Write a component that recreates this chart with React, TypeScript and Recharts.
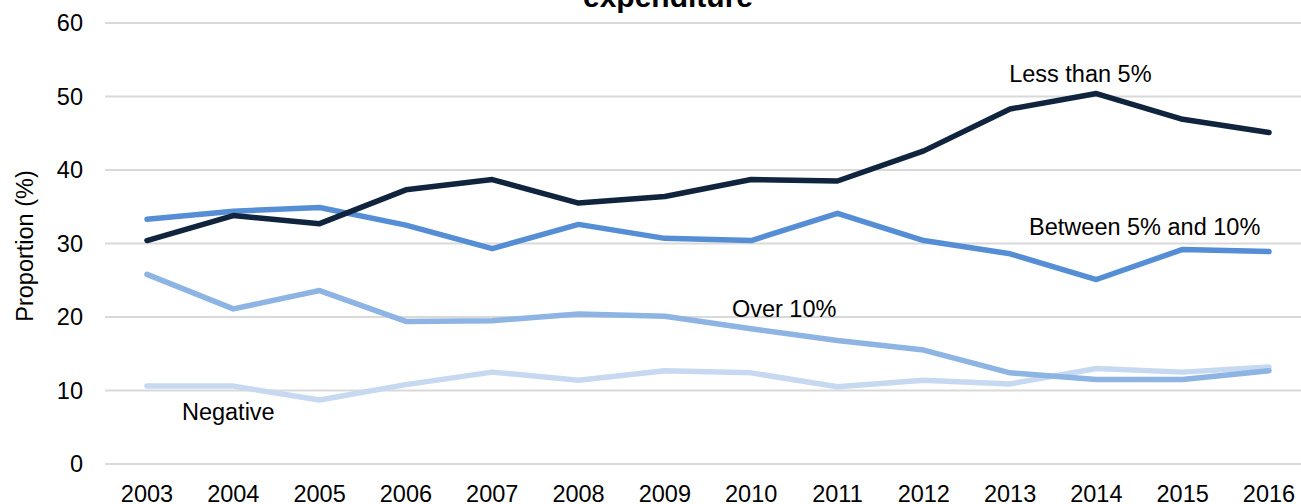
import { LineChart, Line, XAxis, YAxis, CartesianGrid, Customized } from "recharts";

const years = ["2003", "2004", "2005", "2006", "2007", "2008", "2009", "2010", "2011", "2012", "2013", "2014", "2015", "2016"];
const lessThan5 = [30.4, 33.8, 32.7, 37.3, 38.7, 35.5, 36.4, 38.7, 38.5, 42.6, 48.3, 50.4, 46.9, 45.1];
const between5and10 = [33.3, 34.4, 34.9, 32.5, 29.3, 32.6, 30.7, 30.4, 34.1, 30.4, 28.6, 25.1, 29.2, 28.9];
const over10 = [25.8, 21.1, 23.6, 19.4, 19.5, 20.4, 20.1, 18.4, 16.8, 15.5, 12.4, 11.5, 11.5, 12.7];
const negative = [10.6, 10.6, 8.7, 10.8, 12.5, 11.4, 12.7, 12.4, 10.5, 11.4, 10.9, 13.0, 12.5, 13.2];
const yTicks = [0, 10, 20, 30, 40, 50, 60];
const seriesNames = ["Less than 5%", "Between 5% and 10%", "Over 10%", "Negative"];

const data = years.map((year, i) => ({
  year,
  less: lessThan5[i],
  between: between5and10[i],
  over: over10[i],
  negative: negative[i],
}));

const FONT = "'Liberation Sans', Arial, sans-serif";
const FS = 23.5;

// label placed next to one point of a line
const pointLabel = (text: string, at: number, dx: number, dy: number) => (props: any) => {
  if (props.index !== at) return null;
  return (
    <text
      key={text}
      x={props.x + dx}
      y={props.y + dy}
      textAnchor="middle"
      fontSize={FS}
      fontFamily={FONT}
      fill="#000"
    >
      {text}
    </text>
  );
};

export default function App() {
  return (
    <div style={{ position: "absolute", left: 0, top: 0, fontFamily: FONT }}>
      <LineChart
        width={1301}
        height={504}
        data={data}
        margin={{ top: 23, right: 0, bottom: 0, left: 0 }}
      >
        <CartesianGrid vertical={false} stroke="#d9d9d9" strokeWidth={2} />
        <XAxis
          dataKey="year"
          height={40}
          axisLine={false}
          tickLine={false}
          tickSize={0}
          tickMargin={21}
          padding={{ left: 42, right: 32 }}
          interval={0}
          tick={{ fontSize: FS, fill: "#000", fontFamily: FONT }}
        />
        <YAxis
          width={105}
          domain={[0, 60]}
          ticks={yTicks}
          axisLine={false}
          tickLine={false}
          tickSize={0}
          tickMargin={22}
          tick={{ fontSize: FS, fill: "#000", fontFamily: FONT }}
        />
        <Line
          dataKey="negative"
          stroke="#c6d9f1"
          strokeWidth={5.5}
          strokeLinecap="round"
          strokeLinejoin="round"
          dot={false}
          isAnimationActive={false}
          label={pointLabel(seriesNames[3], 1, -5, 33.5)}
        />
        <Line
          dataKey="over"
          stroke="#8db4e2"
          strokeWidth={5.5}
          strokeLinecap="round"
          strokeLinejoin="round"
          dot={false}
          isAnimationActive={false}
          label={pointLabel(seriesNames[2], 7, 33, -11.5)}
        />
        <Line
          dataKey="between"
          stroke="#558ed5"
          strokeWidth={5.5}
          strokeLinecap="round"
          strokeLinejoin="round"
          dot={false}
          isAnimationActive={false}
          label={pointLabel(seriesNames[1], 12, -38, -14)}
        />
        <Line
          dataKey="less"
          stroke="#10243e"
          strokeWidth={5.5}
          strokeLinecap="round"
          strokeLinejoin="round"
          dot={false}
          isAnimationActive={false}
          label={pointLabel(seriesNames[0], 11, -16, -12)}
        />
        <Customized
          component={() => (
            <g>
              <text x={668} y={7} textAnchor="middle" fontSize={30} fontWeight="bold" fontFamily={FONT} fill="#000">
                expenditure
              </text>
              <text
                transform="translate(33,246) rotate(-90)"
                textAnchor="middle"
                fontSize={FS}
                fontFamily={FONT}
                fill="#000"
              >
                Proportion (%)
              </text>
            </g>
          )}
        />
      </LineChart>
    </div>
  );
}
